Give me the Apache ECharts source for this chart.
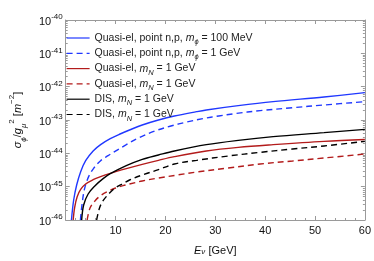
<!DOCTYPE html>
<html><head><meta charset="utf-8">
<script src="https://cdn.jsdelivr.net/npm/echarts@6/dist/echarts.min.js"></script>
<style>html,body{margin:0;padding:0;background:#fff}#c{width:374px;height:261px}</style>
</head><body><div id="c"></div>
<script>
// Energies E_nu [GeV] and cross sections sigma_phi/g_mu^2 [m^-2]
const qePoint100E = [1.15, 1.6, 2.2, 3.0, 4.0, 5.5, 7.0, 8.94, 10.9, 12.8, 15.35, 18.6, 21.8, 26.25, 28.2, 34.6, 41.6, 51.8, 60];
const qePoint100S = [1e-46, 3.98e-46, 1.12e-45, 2.82e-45, 6.03e-45, 1.175e-44, 1.82e-44, 2.75e-44, 3.8e-44, 5.01e-44, 7.08e-44, 1e-43, 1.32e-43, 1.78e-43, 2.0e-43, 2.69e-43, 3.55e-43, 4.9e-43, 6.61e-43];

const qePoint1E = [2.95, 3.3, 3.8, 4.6, 5.6, 7.0, 8.5, 9.58, 12.15, 14.7, 17.9, 21.1, 24.3, 27.5, 30.7, 33.9, 39, 45.5, 51.8, 60];
const qePoint1S = [1e-46, 3.16e-46, 8.91e-46, 2.0e-45, 3.55e-45, 6.03e-45, 8.51e-45, 1.07e-44, 1.82e-44, 2.95e-44, 4.68e-44, 6.61e-44, 8.71e-44, 1.10e-43, 1.32e-43, 1.55e-43, 1.91e-43, 2.34e-43, 2.82e-43, 3.55e-43];

const qeSolidE = [1.5, 1.8, 2.3, 3.0, 4.0, 5.5, 7.0, 8.94, 12.15, 15.35, 18.6, 21.8, 28.2, 34.6, 41.6, 51.8, 60];
const qeSolidS = [1e-46, 2.4e-46, 5.0e-46, 8.3e-46, 1.2e-45, 1.62e-45, 2.0e-45, 2.51e-45, 3.47e-45, 4.68e-45, 6.17e-45, 7.94e-45, 1.175e-44, 1.51e-44, 1.82e-44, 2.29e-44, 2.6e-44];

const qeDashE = [4.3, 4.9, 5.9, 7.0, 8.5, 10, 11.5, 12.8, 15.35, 18.6, 22.4, 26.25, 32.6, 39, 45.5, 51.8, 60];
const qeDashS = [1e-46, 2.34e-46, 3.8e-46, 5.37e-46, 7.24e-46, 9.12e-46, 1.07e-45, 1.20e-45, 1.48e-45, 1.82e-45, 2.24e-45, 2.75e-45, 3.63e-45, 4.79e-45, 5.89e-45, 7.24e-45, 9.55e-45];

const disSolidE = [3.2, 3.6, 4.5, 5.9, 7.5, 8.94, 12.15, 15.35, 18.6, 21.8, 28.2, 34.6, 41.6, 51.8, 60];
const disSolidS = [1e-46, 2.82e-46, 6.03e-46, 1.07e-45, 1.74e-45, 2.45e-45, 4.27e-45, 6.61e-45, 8.91e-45, 1.175e-44, 1.82e-44, 2.45e-44, 3.16e-44, 4.17e-44, 5.25e-44];

const disDashE = [6.2, 6.8, 7.5, 8.75, 10, 11.3, 12.8, 15.35, 18.6, 21.8, 26.25, 32.6, 39, 45.5, 51.8, 60];
const disDashS = [1e-46, 2.34e-46, 3.8e-46, 6.31e-46, 9.33e-46, 1.20e-45, 1.585e-45, 2.24e-45, 3.24e-45, 4.79e-45, 6.17e-45, 8.32e-45, 1.07e-44, 1.35e-44, 1.66e-44, 2.29e-44];

const xTickLabels = [10, 20, 30, 40, 50, 60];
const yDecades = [-46, -45, -44, -43, -42, -41, -40];

const FONT = '"Liberation Sans", Arial, sans-serif';
const BLUE = '#2038ff', RED = '#b31b1b', BLACK = '#000000';

function pairs(E, S) { return E.map((e, i) => [e, Math.log10(S[i])]); }

const minorY = [];
for (let n = yDecades[0]; n < yDecades[yDecades.length - 1]; n++)
  for (let k = 2; k <= 9; k++) minorY.push(n + Math.log10(k));

const legendText = {
  qe100: '{n|Quasi-el, point n,p, }{i|m}{s|ϕ}{n| = 100 MeV}',
  qe1: '{n|Quasi-el, point n,p, }{i|m}{s|ϕ}{n| = 1 GeV}',
  qeS: '{n|Quasi-el, }{i|m}{s|N}{n| = 1 GeV}',
  qeD: '{n|Quasi-el, }{i|m}{s|N}{n| = 1 GeV}',
  disS: '{n|DIS, }{i|m}{s|N}{n| = 1 GeV}',
  disD: '{n|DIS, }{i|m}{s|N}{n| = 1 GeV}'
};

const axisGrey = '#9a9a9a';
function yAx(pos, major, labels) {
  return {
    type: 'value', position: pos, min: -46, max: -40, interval: 1,
    axisLine: { show: major, lineStyle: { color: axisGrey, width: 1 } },
    axisTick: major ? { show: true, inside: true, length: 4, lineStyle: { color: axisGrey } }
                    : { show: true, inside: true, length: 2, customValues: minorY, lineStyle: { color: axisGrey } },
    axisLabel: labels ? {
      show: true, margin: 3, color: '#111', fontFamily: FONT,
      formatter: v => '{b|10}{p|' + Math.round(v) + '}',
      rich: { b: { fontSize: 11, fontFamily: FONT, color: '#111', verticalAlign: 'bottom', lineHeight: 14 },
              p: { fontSize: 8, fontFamily: FONT, color: '#111', verticalAlign: 'top', lineHeight: 9 } }
    } : { show: false },
    splitLine: { show: false }
  };
}
function xAx(pos, labels) {
  const a = {
    type: 'value', position: pos, min: 0, max: 60, interval: 10,
    axisLine: { show: true, onZero: false, lineStyle: { color: axisGrey, width: 1 } },
    axisTick: { show: true, inside: true, length: 4, lineStyle: { color: axisGrey } },
    minorTick: { show: true, splitNumber: 5, length: 2, lineStyle: { color: axisGrey } },
    axisLabel: labels ? { show: true, showMinLabel: false, margin: 5, fontSize: 11, color: '#111', fontFamily: FONT,
                          formatter: v => xTickLabels.indexOf(v) >= 0 ? String(v) : '' } : { show: false },
    splitLine: { show: false }
  };
  if (labels) {
    a.name = '{i|E}{s|ν}{n| [GeV]}';
    a.nameLocation = 'middle';
    a.nameGap = 22;
    a.nameTextStyle = { rich: {
      i: { fontSize: 11, fontStyle: 'italic', fontFamily: FONT, color: '#111', lineHeight: 14, verticalAlign: 'bottom' },
      s: { fontSize: 8, fontStyle: 'italic', fontFamily: FONT, color: '#111', lineHeight: 9, verticalAlign: 'bottom' },
      n: { fontSize: 11, fontFamily: FONT, color: '#111', lineHeight: 14, verticalAlign: 'bottom' } } };
  }
  return a;
}

function line(id, E, S, color, dashed) {
  return {
    name: id, type: 'line', data: pairs(E, S), xAxisIndex: 0, yAxisIndex: 0,
    showSymbol: false, symbol: 'none', smooth: 0.35, clip: true,
    lineStyle: { color: color, width: 1.4, type: dashed ? [6, 4] : 'solid' },
    itemStyle: { color: color }
  };
}

const yLeft = yAx('left', true, true);
yLeft.name = '{i|σ}{s|ϕ}{n|/}{i|g}{s|μ}{p|2}{n| [}{i|m}{p|−2}{n|]}';
yLeft.nameLocation = 'middle';
yLeft.nameGap = 35;
yLeft.nameRotate = 90;
yLeft.nameTextStyle = { rich: {
  i: { fontSize: 11, fontStyle: 'italic', fontFamily: FONT, color: '#111', lineHeight: 14, verticalAlign: 'middle' },
  s: { fontSize: 8, fontStyle: 'italic', fontFamily: FONT, color: '#111', lineHeight: 14, verticalAlign: 'bottom', padding: [0, 0, -3, 0] },
  p: { fontSize: 8, fontFamily: FONT, color: '#111', lineHeight: 14, verticalAlign: 'top', padding: [-3, 0, 0, 0] },
  n: { fontSize: 11, fontFamily: FONT, color: '#111', lineHeight: 14, verticalAlign: 'middle' } } };

const chart = echarts.init(document.getElementById('c'), null, { renderer: 'canvas' });
chart.setOption({
  animation: false,
  backgroundColor: '#fff',
  grid: { left: 54, right: 8, top: 20, bottom: 35, containLabel: false },
  xAxis: [xAx('bottom', true), xAx('top', false)],
  yAxis: [yLeft, yAx('left', false, false), yAx('right', true, false), yAx('right', false, false)],
  legend: {
    orient: 'vertical', left: 61, top: 27.5, itemWidth: 23, itemHeight: 12, itemGap: 1.8,
    itemStyle: { opacity: 0, borderWidth: 0 },
    lineStyle: { width: 1.2 },
    data: ['qe100', 'qe1', 'qeS', 'qeD', 'disS', 'disD'],
    formatter: n => legendText[n],
    textStyle: { fontFamily: FONT, fontSize: 10.5, color: '#222', rich: {
      n: { fontSize: 10.5, fontFamily: FONT, color: '#222', lineHeight: 12, verticalAlign: 'middle' },
      i: { fontSize: 10.5, fontStyle: 'italic', fontFamily: FONT, color: '#222', lineHeight: 12, verticalAlign: 'middle' },
      s: { fontSize: 7.5, fontStyle: 'italic', fontFamily: FONT, color: '#222', lineHeight: 12, verticalAlign: 'bottom', padding: [0, 0, -2, 0] } } }
  },
  series: [
    line('qe100', qePoint100E, qePoint100S, BLUE, false),
    line('qe1', qePoint1E, qePoint1S, BLUE, true),
    line('qeS', qeSolidE, qeSolidS, RED, false),
    line('qeD', qeDashE, qeDashS, RED, true),
    line('disS', disSolidE, disSolidS, BLACK, false),
    line('disD', disDashE, disDashS, BLACK, true)
  ]
});
</script></body></html>
